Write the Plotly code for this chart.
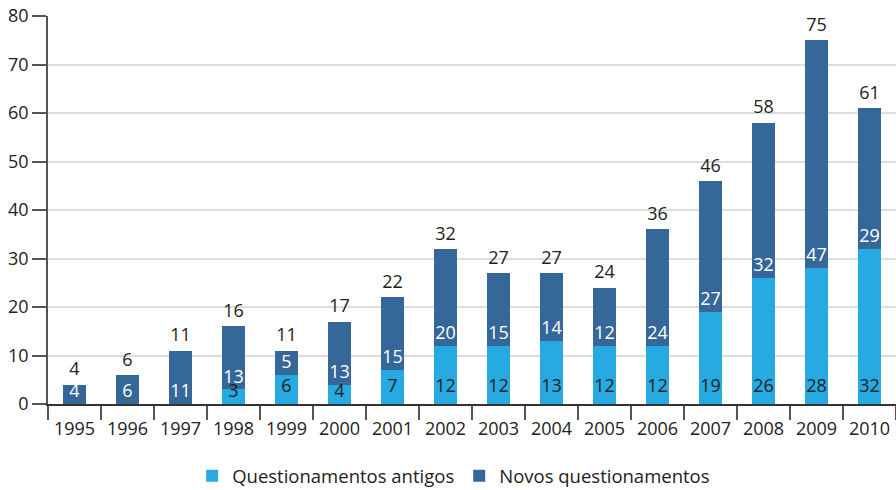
import plotly.graph_objects as go

years = [str(y) for y in range(1995, 2011)]
antigos = [0, 0, 0, 3, 6, 4, 7, 12, 12, 13, 12, 12, 19, 26, 28, 32]
novos = [4, 6, 11, 13, 5, 13, 15, 20, 15, 14, 12, 24, 27, 32, 47, 29]
totals = [a + n for a, n in zip(antigos, novos)]

LIGHT = "#27a9e1"
DARK = "#366799"
FONT = "Open Sans"
FS = 18

fig = go.Figure()
fig.add_trace(go.Bar(x=years, y=antigos, name="Questionamentos antigos",
                     marker=dict(color=LIGHT, line=dict(width=0)), hoverinfo="skip"))
fig.add_trace(go.Bar(x=years, y=novos, name="Novos questionamentos",
                     marker=dict(color=DARK, line=dict(width=0)), hoverinfo="skip"))

# labels for antigos (at bottom of bar)
ax_ = [y for y, a in zip(years, antigos) if a > 0]
ay_ = [0 for a in antigos if a > 0]
at_ = [str(a) for a in antigos if a > 0]
a_sizes = [10 if a >= 5 else 2 for a in antigos if a > 0]
fig.add_trace(go.Scatter(x=ax_, y=ay_, text=at_, mode="markers+text", textposition="top center",
                         marker=dict(size=a_sizes, opacity=0), cliponaxis=False,
                         textfont=dict(color="#222222", size=FS, family=FONT),
                         showlegend=False, hoverinfo="skip"))
# labels for novos (at base of novos segment)
fig.add_trace(go.Scatter(x=years, y=antigos, text=[str(n) for n in novos], mode="markers+text",
                         textposition="top center", marker=dict(size=2, opacity=0),
                         cliponaxis=False,
                         textfont=dict(color="white", size=FS, family=FONT),
                         showlegend=False, hoverinfo="skip"))
# totals
fig.add_trace(go.Scatter(x=years, y=totals, text=[str(t) for t in totals], mode="markers+text",
                         textposition="top center", marker=dict(size=6, opacity=0),
                         cliponaxis=False,
                         textfont=dict(color="#222222", size=FS, family=FONT),
                         showlegend=False, hoverinfo="skip"))

fig.update_layout(
    width=896, height=490,
    barmode="stack", bargap=0.58,
    plot_bgcolor="white", paper_bgcolor="white",
    margin=dict(l=48, r=0, t=16, b=86, autoexpand=False),
    font=dict(family=FONT, size=FS, color="#222222"),
    showlegend=True,
    legend=dict(orientation="h", x=0.170, xanchor="left", y=-0.186, yanchor="middle",
                font=dict(size=18.5, family=FONT, color="#222222"), traceorder="normal",
                itemwidth=30),
    xaxis=dict(type="category", range=[-0.5, 15.5], showgrid=False, showline=True,
               linecolor="#333333", linewidth=1.5, ticks="outside", tickson="boundaries",
               ticklen=14, tickcolor="#555555", tickwidth=1.5, tickangle=0,
               ticklabelstandoff=8,
               tickfont=dict(size=FS, family=FONT), automargin=False),
    yaxis=dict(range=[0, 80], dtick=10, showgrid=True, gridcolor="#dddddd", gridwidth=1.5,
               showline=True, linecolor="#555555", linewidth=1.5, ticks="outside",
               ticklen=14, tickcolor="#555555", tickwidth=1.5, zeroline=False,
               tickfont=dict(size=FS, family=FONT), automargin=False),
)

fig.write_html("out.html", config={"displayModeBar": False},
               post_script="document.body.style.margin='0';document.body.style.overflow='hidden';")
